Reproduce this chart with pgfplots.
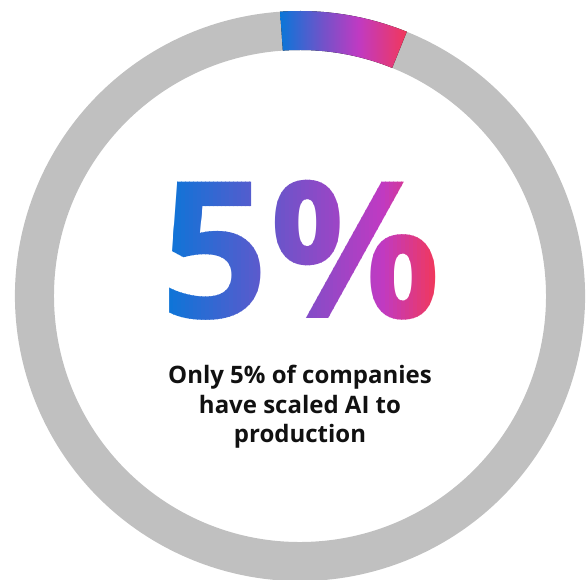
\documentclass[border=0pt]{standalone}
\usepackage{pgfplots}
\pgfplotsset{compat=1.18}
\usepackage{fontspec}
\setmainfont{Open Sans}
\definecolor{ringgray}{HTML}{C0C0C0}
\definecolor{gblue}{HTML}{0A76D8}
\definecolor{gpurple}{HTML}{7352C9}
\definecolor{gmag}{HTML}{C03AC2}
\definecolor{gred}{HTML}{F2385A}
\definecolor{txt}{HTML}{111111}
\pgfdeclarehorizontalshading{grad}{100bp}{color(0bp)=(gblue); color(25bp)=(gblue); color(42bp)=(gpurple); color(56bp)=(gmag); color(75bp)=(gred); color(100bp)=(gred)}
% ring segments: name, start angle, end angle, outer radius, inner radius
\pgfplotstableread{
seg start end rout rin
ai 94 68 285 246
rest 68 -266 285 246
}\ringdata
\begin{document}
\begin{tikzpicture}
\begin{axis}[width=588pt,height=579pt,scale only axis,
  xmin=0,xmax=588,ymin=0,ymax=579,hide axis,clip=true]
\coordinate (c) at (axis cs:300,283);
\coordinate (bigc) at (axis cs:301,329);
% gray remainder
\fill[ringgray] ([shift={(c)}]68:285) arc[start angle=68,end angle=-266,radius=285]
   -- ([shift={(c)}]-266:246) arc[start angle=-266,end angle=68,radius=246] -- cycle;
% gradient share
\fill[shading=grad] ([shift={(c)}]94:285) arc[start angle=94,end angle=68,radius=285]
   -- ([shift={(c)}]68:246) arc[start angle=68,end angle=94,radius=246] -- cycle;
\node[anchor=base, inner sep=0pt, text=txt, font=\bfseries\fontsize{24}{28}\selectfont] at (axis cs:300,196) {Only 5\% of companies};
\node[anchor=base, inner sep=0pt, text=txt, font=\bfseries\fontsize{24}{28}\selectfont] at (axis cs:300,166) {have scaled AI to};
\node[anchor=base, inner sep=0pt, text=txt, font=\bfseries\fontsize{24}{28}\selectfont] at (axis cs:300,137) {production};
\end{axis}
% big gradient number, drawn as many thin vertical strips
\foreach \i in {0,...,67}{
  \pgfmathsetmacro\t{(\i+0.5)/68}
  \pgfmathsetmacro\xa{-136+4*\i}
  \pgfmathsetmacro\xb{\xa+4.3}
  \ifdim\t pt<0.45pt
    \pgfmathsetmacro\w{100*\t/0.45}
    \colorlet{sc}{gpurple!\w!gblue}
  \else
    \ifdim\t pt<0.8pt
      \pgfmathsetmacro\w{100*(\t-0.45)/0.35}
      \colorlet{sc}{gmag!\w!gpurple}
    \else
      \pgfmathsetmacro\w{100*(\t-0.8)/0.2}
      \colorlet{sc}{gred!\w!gmag}
    \fi
  \fi
  \begin{scope}
    \clip ([shift={(\xa pt,-95pt)}]bigc) rectangle ([shift={(\xb pt,95pt)}]bigc);
    \node[text=sc, inner sep=0pt, font=\bfseries\fontsize{191}{195}\selectfont] at (bigc) {5\%};
  \end{scope}
}
\pgfresetboundingbox
\path (current axis.south west) rectangle (current axis.north east);
\end{tikzpicture}
\end{document}
